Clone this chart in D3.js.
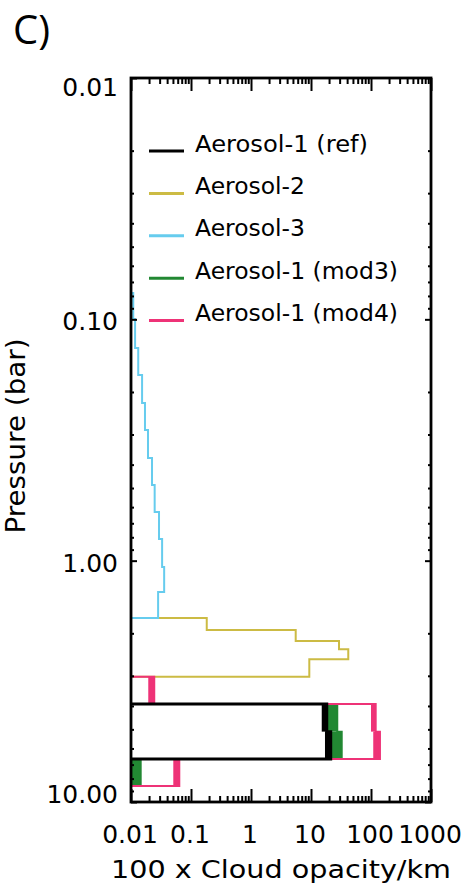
<!DOCTYPE html>
<html><head><meta charset="utf-8">
<script src="https://cdn.jsdelivr.net/npm/d3@7"></script>
<style>body{margin:0;background:#fff}</style>
</head><body>
<svg id="chart" width="470" height="886"></svg>
<script>
// ---- data ----
const xTickValues = [0.01, 0.1, 1, 10, 100, 1000];
const xTickLabels = ["0.01", "0.1", "1", "10", "100", "1000"];
const yTickValues = [0.01, 0.1, 1, 10];
const yTickLabels = ["0.01", "0.10", "1.00", "10.00"];
const seriesNames = ["Aerosol-1 (ref)", "Aerosol-2", "Aerosol-3", "Aerosol-1 (mod3)", "Aerosol-1 (mod4)"];
const seriesColors = ["#000000", "#CCBB44", "#66CCEE", "#228833", "#EE3377"];
// layers: [pressure top (bar), pressure bottom (bar), opacity low, opacity high]
const aerosol1Ref = [[3.93, 5.11, 15.1, 18.3], [5.11, 6.64, 17.1, 21.3]];
const aerosol2 = [[1.73, 1.94, 0.183, 0.183], [1.94, 2.15, 5.56, 5.56], [2.15, 2.33, 29.3, 29.3],
                  [2.33, 2.56, 41.8, 41.8], [2.56, 3.03, 9.37, 9.37]];
const aerosol3 = [[0.0778, 0.0997, 0.0109, 0.0109], [0.0997, 0.1315, 0.0117, 0.0117], [0.1315, 0.1702, 0.0132, 0.0132],
                  [0.1702, 0.2222, 0.0153, 0.0153], [0.2222, 0.2874, 0.0171, 0.0171], [0.2874, 0.3755, 0.0192, 0.0192],
                  [0.3755, 0.4859, 0.0224, 0.0224], [0.4859, 0.6287, 0.0248, 0.0248], [0.6287, 0.8134, 0.0293, 0.0293],
                  [0.8134, 1.062, 0.0330, 0.0330], [1.062, 1.349, 0.0357, 0.0357], [1.349, 1.73, 0.0283, 0.0283]];
const aerosol1Mod3 = [[3.93, 5.11, 18.3, 27.4], [5.11, 6.64, 21.3, 32.5], [6.64, 8.59, 0.0103, 0.0145]];
const aerosol1Mod4 = [[3.03, 3.93, 0.0194, 0.0244], [3.93, 5.11, 100, 119.7], [5.11, 6.64, 109, 141], [6.64, 8.59, 0.0507, 0.0638]];

// ---- chart ----
const svg = d3.select("#chart");
const x = d3.scaleLog().domain([0.01, 1000]).range([131, 431]);
const y = d3.scaleLog().domain([0.01, 10]).range([78, 802]);
const FONT = "DejaVu Sans, sans-serif";

svg.append("rect").attr("width", 470).attr("height", 886).attr("fill", "#fff");

svg.append("text").attr("x", 13).attr("y", 44).text("C)")
  .attr("font-family", "Open Sans, sans-serif").attr("font-size", 40).attr("fill", "#000");

svg.append("defs").append("clipPath").attr("id", "plotclip")
  .append("rect").attr("x", x.range()[0]).attr("y", y.range()[0])
  .attr("width", x.range()[1] - x.range()[0]).attr("height", y.range()[1] - y.range()[0]);

const plot = svg.append("g").attr("clip-path", "url(#plotclip)");
const xMin = x.domain()[0];

function drawSeries(layers, color, width) {
  const g = plot.append("g");
  layers.filter(L => L[3] > L[2]).forEach(L => {
    g.append("rect").attr("x", x(L[2])).attr("y", y(L[0]))
      .attr("width", x(L[3]) - x(L[2])).attr("height", y(L[1]) - y(L[0]))
      .attr("fill", color);
  });
  const pts = [[x(xMin), y(layers[0][0])]];
  layers.forEach((L, i) => {
    if (i > 0 && layers[i - 1][1] !== L[0]) {
      pts.push([x(xMin), y(layers[i - 1][1])]);
      pts.push([x(xMin), y(L[0])]);
    }
    pts.push([x(L[3]), y(L[0])]);
    pts.push([x(L[3]), y(L[1])]);
  });
  pts.push([x(xMin), y(layers[layers.length - 1][1])]);
  g.append("path").attr("d", d3.line()(pts)).attr("fill", "none")
    .attr("stroke", color).attr("stroke-width", width).attr("stroke-linejoin", "miter");
}

drawSeries(aerosol2, seriesColors[1], 2);
drawSeries(aerosol3, seriesColors[2], 2);
drawSeries(aerosol1Mod3, seriesColors[3], 2);
drawSeries(aerosol1Mod4, seriesColors[4], 2);
drawSeries(aerosol1Ref, seriesColors[0], 3);

// ---- ticks ----
function minorOf(decades) {
  const out = [];
  decades.forEach(d => { for (let k = 2; k <= 9; k++) out.push(d * k); });
  return out;
}
const xMinor = minorOf(xTickValues.slice(0, -1));
const yMinor = minorOf(yTickValues.slice(0, -1));

function tickGroup(axis, tx, ty, values, size) {
  const g = svg.append("g").attr("transform", `translate(${tx},${ty})`)
    .call(axis.tickValues(values).tickSize(size).tickFormat(""));
  g.select(".domain").remove();
  g.selectAll("line").attr("stroke", "#000").attr("stroke-width", 2);
}
tickGroup(d3.axisBottom(x), 0, y.range()[1], xTickValues, -13);
tickGroup(d3.axisBottom(x), 0, y.range()[1], xMinor, -6);
tickGroup(d3.axisTop(x), 0, y.range()[0], xTickValues, -13);
tickGroup(d3.axisTop(x), 0, y.range()[0], xMinor, -6);
tickGroup(d3.axisLeft(y), x.range()[0], 0, yTickValues, -6);
tickGroup(d3.axisLeft(y), x.range()[0], 0, yMinor, -3);
tickGroup(d3.axisRight(y), x.range()[1], 0, yTickValues, -6);
tickGroup(d3.axisRight(y), x.range()[1], 0, yMinor, -3);

// frame
svg.append("rect").attr("x", x.range()[0]).attr("y", y.range()[0])
  .attr("width", x.range()[1] - x.range()[0]).attr("height", y.range()[1] - y.range()[0])
  .attr("fill", "none").attr("stroke", "#000").attr("stroke-width", 2.8);

// tick labels
svg.append("g").selectAll("text").data(xTickValues).join("text")
  .attr("x", d => x(d) - 1).attr("y", 843).attr("text-anchor", "middle")
  .attr("font-family", FONT).attr("font-size", 25).attr("fill", "#000")
  .text((d, i) => xTickLabels[i]);

const last = yTickValues.length - 1;
svg.append("g").selectAll("text").data(yTickValues).join("text")
  .attr("x", 118).attr("y", (d, i) => y(d) + 9 + (i === 0 ? 8.5 : i === last ? -8 : 2))
  .attr("text-anchor", "end")
  .attr("font-family", FONT).attr("font-size", 25).attr("fill", "#000")
  .text((d, i) => yTickLabels[i]);

// axis titles
svg.append("text").attr("x", 281).attr("y", 878).attr("text-anchor", "middle")
  .attr("font-family", FONT).attr("font-size", 25).attr("fill", "#000")
  .attr("textLength", 340).attr("lengthAdjust", "spacingAndGlyphs")
  .text("100 x Cloud opacity/km");
svg.append("text").attr("transform", "translate(25,436) rotate(-90)").attr("text-anchor", "middle")
  .attr("font-family", FONT).attr("font-size", 27).attr("fill", "#000")
  .attr("textLength", 195).attr("lengthAdjust", "spacingAndGlyphs")
  .text("Pressure (bar)");

// legend
const legendWidths = [173, 110, 110, 203, 203];
const leg = svg.append("g");
seriesNames.forEach((name, i) => {
  const ly = 151 + i * 42.4;
  leg.append("line").attr("x1", 149).attr("x2", 184).attr("y1", ly).attr("y2", ly)
    .attr("stroke", seriesColors[i]).attr("stroke-width", 3);
  leg.append("text").attr("x", 195).attr("y", ly + 0.5)
    .attr("font-family", FONT).attr("font-size", 23).attr("fill", "#000")
    .attr("textLength", legendWidths[i]).attr("lengthAdjust", "spacingAndGlyphs")
    .text(name);
});
</script>
</body></html>
